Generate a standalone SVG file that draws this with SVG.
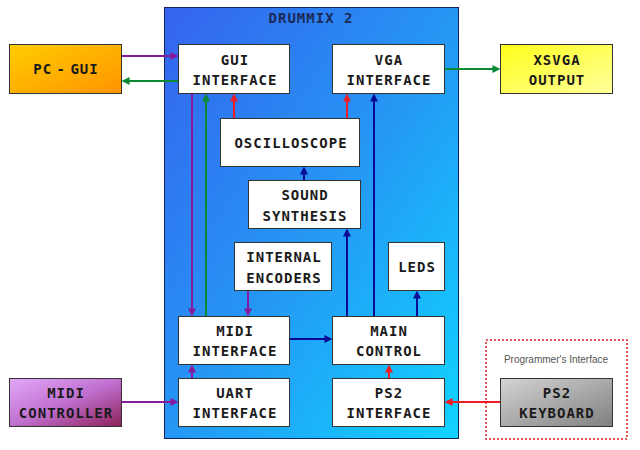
<svg xmlns="http://www.w3.org/2000/svg" width="640" height="450" viewBox="0 0 640 450">
<style>
.box{fill:#fff;stroke:#333;stroke-width:1}
.t{font-family:"DejaVu Sans Mono","Liberation Mono",monospace;font-weight:bold;font-size:14px;letter-spacing:1px;fill:#1a1a1a;text-anchor:middle}
.c{fill:none;stroke-width:2}
.pu{stroke:#861a9c}
.gr{stroke:#0b8a36}
.rd{stroke:#ee1c24}
.bl{stroke:#0a0a96}
</style>
<defs>
<linearGradient id="gBlue" x1="0" y1="0" x2="1" y2="1">
<stop offset="0" stop-color="#3563ee"/>
<stop offset="0.5" stop-color="#2596f4"/>
<stop offset="1" stop-color="#10d4ff"/>
</linearGradient>
<linearGradient id="gOrange" x1="0" y1="0" x2="1" y2="1">
<stop offset="0" stop-color="#ffcc00"/>
<stop offset="1" stop-color="#ff9400"/>
</linearGradient>
<linearGradient id="gYellow" x1="0" y1="0" x2="1" y2="1">
<stop offset="0" stop-color="#ffff1a"/>
<stop offset="1" stop-color="#ffff9c"/>
</linearGradient>
<linearGradient id="gPurple" x1="0" y1="0" x2="1" y2="1">
<stop offset="0" stop-color="#e2a8f8"/>
<stop offset="0.5" stop-color="#c070d0"/>
<stop offset="1" stop-color="#8c2058"/>
</linearGradient>
<linearGradient id="gGray" x1="0" y1="0" x2="1" y2="1">
<stop offset="0" stop-color="#d4d4d4"/>
<stop offset="1" stop-color="#808080"/>
</linearGradient>
<marker id="aPu" markerUnits="userSpaceOnUse" markerWidth="8" markerHeight="8" viewBox="0 0 7 7" refX="4" refY="3.5" orient="auto"><path d="M0,0 L7,3.5 L0,7 z" fill="#861a9c"/></marker>
<marker id="aGr" markerUnits="userSpaceOnUse" markerWidth="8" markerHeight="8" viewBox="0 0 7 7" refX="4" refY="3.5" orient="auto"><path d="M0,0 L7,3.5 L0,7 z" fill="#0b8a36"/></marker>
<marker id="aRd" markerUnits="userSpaceOnUse" markerWidth="8" markerHeight="8" viewBox="0 0 7 7" refX="4" refY="3.5" orient="auto"><path d="M0,0 L7,3.5 L0,7 z" fill="#ee1c24"/></marker>
<marker id="aBl" markerUnits="userSpaceOnUse" markerWidth="8" markerHeight="8" viewBox="0 0 7 7" refX="4" refY="3.5" orient="auto"><path d="M0,0 L7,3.5 L0,7 z" fill="#0a0a96"/></marker>
</defs>
<rect width="640" height="450" fill="#fff"/>

<g id="drummix2">
<rect x="164.5" y="7.5" width="294" height="431" fill="url(#gBlue)" stroke="#14235a" stroke-width="1"/>
<text class="t" x="311" y="23" style="fill:#1a2a55">DRUMMIX 2</text>
</g>

<g id="programmers-interface">
<rect x="486" y="340" width="141" height="99" fill="none" stroke="#e02020" stroke-width="1.5" stroke-dasharray="2,2"/>
<text x="556" y="363" font-family="Liberation Sans, Arial, sans-serif" font-size="10" fill="#555" text-anchor="middle">Programmer's Interface</text>
</g>

<g id="connectors">
<path class="c pu" d="M122,56 H175" marker-end="url(#aPu)"/>
<path class="c gr" d="M178,81 H125" marker-end="url(#aGr)"/>
<path class="c pu" d="M192,94 V313" marker-end="url(#aPu)"/>
<path class="c gr" d="M206,316 V97" marker-end="url(#aGr)"/>
<path class="c rd" d="M234,118 V97" marker-end="url(#aRd)"/>
<path class="c rd" d="M347,118 V97" marker-end="url(#aRd)"/>
<path class="c bl" d="M374,316 V97" marker-end="url(#aBl)"/>
<path class="c gr" d="M445,69 H497" marker-end="url(#aGr)"/>
<path class="c bl" d="M304,180 V170" marker-end="url(#aBl)"/>
<path class="c bl" d="M347,316 V232" marker-end="url(#aBl)"/>
<path class="c bl" d="M417,316 V294" marker-end="url(#aBl)"/>
<path class="c pu" d="M248,291 V313" marker-end="url(#aPu)"/>
<path class="c bl" d="M290,339 H329" marker-end="url(#aBl)"/>
<path class="c pu" d="M192,378 V368" marker-end="url(#aPu)"/>
<path class="c pu" d="M122,402 H175" marker-end="url(#aPu)"/>
<path class="c rd" d="M500,402 H448" marker-end="url(#aRd)"/>
<path class="c rd" d="M389,378 V368" marker-end="url(#aRd)"/>
</g>

<g id="pc-gui">
<rect x="9.5" y="44.5" width="112" height="49" fill="url(#gOrange)" stroke="#333"/>
<text class="t" x="66" y="74" style="word-spacing:-5px">PC - GUI</text>
</g>
<g id="gui-interface">
<rect class="box" x="178.5" y="44.5" width="111" height="49"/>
<text class="t" x="235" y="65">GUI</text>
<text class="t" x="235" y="85">INTERFACE</text>
</g>
<g id="vga-interface">
<rect class="box" x="332.5" y="44.5" width="112" height="49"/>
<text class="t" x="389" y="65">VGA</text>
<text class="t" x="389" y="85">INTERFACE</text>
</g>
<g id="xsvga-output">
<rect x="500.5" y="44.5" width="112" height="49" fill="url(#gYellow)" stroke="#333"/>
<text class="t" x="557" y="65">XSVGA</text>
<text class="t" x="557" y="85">OUTPUT</text>
</g>
<g id="oscilloscope">
<rect class="box" x="220.5" y="118.5" width="139" height="48"/>
<text class="t" x="291" y="148">OSCILLOSCOPE</text>
</g>
<g id="sound-synthesis">
<rect class="box" x="248.5" y="180.5" width="112" height="48"/>
<text class="t" x="305" y="200">SOUND</text>
<text class="t" x="305" y="221">SYNTHESIS</text>
</g>
<g id="internal-encoders">
<rect class="box" x="234.5" y="242.5" width="97" height="48"/>
<text class="t" x="284" y="262">INTERNAL</text>
<text class="t" x="284" y="283">ENCODERS</text>
</g>
<g id="leds">
<rect class="box" x="388.5" y="242.5" width="56" height="48"/>
<text class="t" x="417" y="272">LEDS</text>
</g>
<g id="midi-interface">
<rect class="box" x="178.5" y="316.5" width="111" height="48"/>
<text class="t" x="235" y="336">MIDI</text>
<text class="t" x="235" y="356">INTERFACE</text>
</g>
<g id="main-control">
<rect class="box" x="332.5" y="316.5" width="112" height="48"/>
<text class="t" x="389" y="336">MAIN</text>
<text class="t" x="389" y="356">CONTROL</text>
</g>
<g id="uart-interface">
<rect class="box" x="178.5" y="378.5" width="111" height="48"/>
<text class="t" x="235" y="398">UART</text>
<text class="t" x="235" y="418">INTERFACE</text>
</g>
<g id="ps2-interface">
<rect class="box" x="332.5" y="378.5" width="112" height="48"/>
<text class="t" x="389" y="398">PS2</text>
<text class="t" x="389" y="418">INTERFACE</text>
</g>
<g id="midi-controller">
<rect x="9.5" y="378.5" width="112" height="48" fill="url(#gPurple)" stroke="#333"/>
<text class="t" x="66" y="398">MIDI</text>
<text class="t" x="66" y="418">CONTROLLER</text>
</g>
<g id="ps2-keyboard">
<rect x="500.5" y="378.5" width="112" height="48" fill="url(#gGray)" stroke="#333"/>
<text class="t" x="557" y="398">PS2</text>
<text class="t" x="557" y="418">KEYBOARD</text>
</g>
</svg>
